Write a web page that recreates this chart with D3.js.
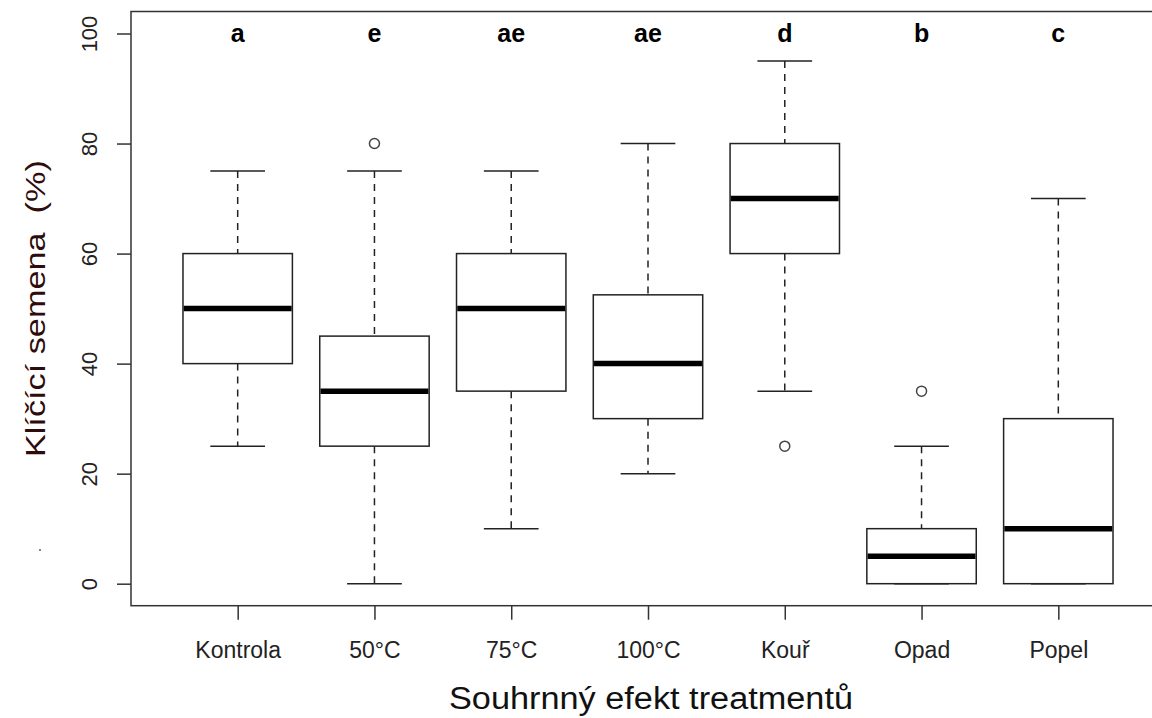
<!DOCTYPE html>
<html>
<head>
<meta charset="utf-8">
<script src="https://cdn.jsdelivr.net/npm/d3@7"></script>
<style>
  html, body { margin: 0; padding: 0; background: #fff; }
  svg { display: block; font-family: "Liberation Sans", Arial, Helvetica, sans-serif; }
</style>
</head>
<body>
<svg id="chart" width="1152" height="718"></svg>
<script>
// Germination per treatment: five-number summaries plus outliers
const categories   = ["Kontrola", "50°C", "75°C", "100°C", "Kouř", "Opad", "Popel"];
const whiskerLow   = [25, 0, 10, 20, 35, 0, 0];
const q1           = [40, 25, 35, 30, 60, 0, 0];
const median       = [50, 35, 50, 40, 70, 5, 10];
const q3           = [60, 45, 60, 52.5, 80, 10, 30];
const whiskerHigh  = [75, 75, 75, 80, 95, 25, 70];
const outliers     = [[], [80], [], [], [25], [35], []];
const groupLetters = ["a", "e", "ae", "ae", "d", "b", "c"];
const yTicks       = [0, 20, 40, 60, 80, 100];

const svg = d3.select("#chart");

// plot region, with the usual 4% padding around the data range
const plotL = 131, plotR = 1165, plotT = 11.5, plotB = 605.7;
const x = d3.scaleLinear().domain([0.22, categories.length + 0.78]).range([plotL, plotR]);
const y = d3.scaleLinear().domain([-4, 104]).range([plotB, plotT]);

const boxW = x(1.4) - x(1);      // half box width in px
const capW = x(1.2) - x(1);      // half whisker-cap width

const data = categories.map((c, i) => ({
  name: c, pos: i + 1,
  lo: whiskerLow[i], q1: q1[i], med: median[i], q3: q3[i], hi: whiskerHigh[i],
  out: outliers[i], letter: groupLetters[i]
}));

const g = svg.append("g");
const boxes = g.selectAll("g.box").data(data).join("g").attr("class", "box");

// dashed whiskers
boxes.append("line")
  .attr("x1", d => x(d.pos)).attr("x2", d => x(d.pos))
  .attr("y1", d => y(d.hi)).attr("y2", d => y(d.q3))
  .attr("stroke", "#222").attr("stroke-width", 1.5).attr("stroke-dasharray", "7,6");
boxes.append("line")
  .attr("x1", d => x(d.pos)).attr("x2", d => x(d.pos))
  .attr("y1", d => y(d.q1)).attr("y2", d => y(d.lo))
  .attr("stroke", "#222").attr("stroke-width", 1.5).attr("stroke-dasharray", "7,6");

// whisker caps
boxes.append("line")
  .attr("x1", d => x(d.pos) - capW).attr("x2", d => x(d.pos) + capW)
  .attr("y1", d => y(d.hi)).attr("y2", d => y(d.hi))
  .attr("stroke", "#222").attr("stroke-width", 1.5);
boxes.append("line")
  .attr("x1", d => x(d.pos) - capW).attr("x2", d => x(d.pos) + capW)
  .attr("y1", d => y(d.lo)).attr("y2", d => y(d.lo))
  .attr("stroke", "#222").attr("stroke-width", 1.5);

// interquartile boxes
boxes.append("rect")
  .attr("x", d => x(d.pos) - boxW).attr("width", 2 * boxW)
  .attr("y", d => y(d.q3)).attr("height", d => y(d.q1) - y(d.q3))
  .attr("fill", "#fff").attr("stroke", "#222").attr("stroke-width", 1.5);

// medians
boxes.append("line")
  .attr("x1", d => x(d.pos) - boxW + 0.75).attr("x2", d => x(d.pos) + boxW - 0.75)
  .attr("y1", d => y(d.med)).attr("y2", d => y(d.med))
  .attr("stroke", "#000").attr("stroke-width", 5.5);

// outliers
boxes.selectAll("circle").data(d => d.out.map(v => ({ pos: d.pos, v }))).join("circle")
  .attr("cx", d => x(d.pos)).attr("cy", d => y(d.v)).attr("r", 5)
  .attr("fill", "none").attr("stroke", "#444").attr("stroke-width", 1.5);

// significance letters
boxes.append("text")
  .attr("x", d => x(d.pos)).attr("y", 42)
  .attr("text-anchor", "middle")
  .attr("font-size", 25).attr("font-weight", "bold").attr("fill", "#000")
  .text(d => d.letter);

// y axis
const yAxis = g.append("g").attr("transform", `translate(${plotL},0)`)
  .call(d3.axisLeft(y).tickValues(yTicks).tickSize(14).tickFormat(d3.format("d")));
yAxis.select(".domain").remove();
yAxis.selectAll(".tick line").attr("stroke", "#333").attr("stroke-width", 1.5);
yAxis.selectAll(".tick text")
  .attr("transform", "rotate(-90)")
  .attr("x", 0).attr("y", -34).attr("dy", 0)
  .attr("text-anchor", "middle")
  .attr("font-size", 22).attr("fill", "#222");

// x axis
const xAxis = g.append("g").attr("transform", `translate(0,${plotB})`)
  .call(d3.axisBottom(x).tickValues(data.map(d => d.pos)).tickSize(14)
    .tickFormat(p => categories[p - 1]));
xAxis.select(".domain").remove();
xAxis.selectAll(".tick line").attr("stroke", "#333").attr("stroke-width", 1.5);
xAxis.selectAll(".tick text")
  .attr("y", 52).attr("dy", 0)
  .attr("font-size", 23).attr("fill", "#222");

// plot frame
g.append("rect")
  .attr("x", plotL).attr("y", plotT)
  .attr("width", plotR - plotL).attr("height", plotB - plotT)
  .attr("fill", "none").attr("stroke", "#333").attr("stroke-width", 1.5);

// axis titles
svg.append("text")
  .attr("x", (plotL + plotR) / 2 + 3).attr("y", 709)
  .attr("text-anchor", "middle")
  .attr("font-size", 31).attr("fill", "#111")
  .attr("textLength", 404).attr("lengthAdjust", "spacingAndGlyphs")
  .text("Souhrnný efekt treatmentů");

svg.append("text")
  .attr("transform", `translate(45,${(plotT + plotB) / 2}) rotate(-90)`)
  .attr("text-anchor", "middle")
  .attr("font-size", 27).attr("fill", "#2e0c0c")
  .attr("textLength", 297).attr("lengthAdjust", "spacingAndGlyphs")
  .style("white-space", "pre")
  .text("Klíčící semena  (%)");

// small stray mark at the left margin
svg.append("circle").attr("cx", 40).attr("cy", 550).attr("r", 1.1).attr("fill", "#666");
</script>
</body>
</html>
